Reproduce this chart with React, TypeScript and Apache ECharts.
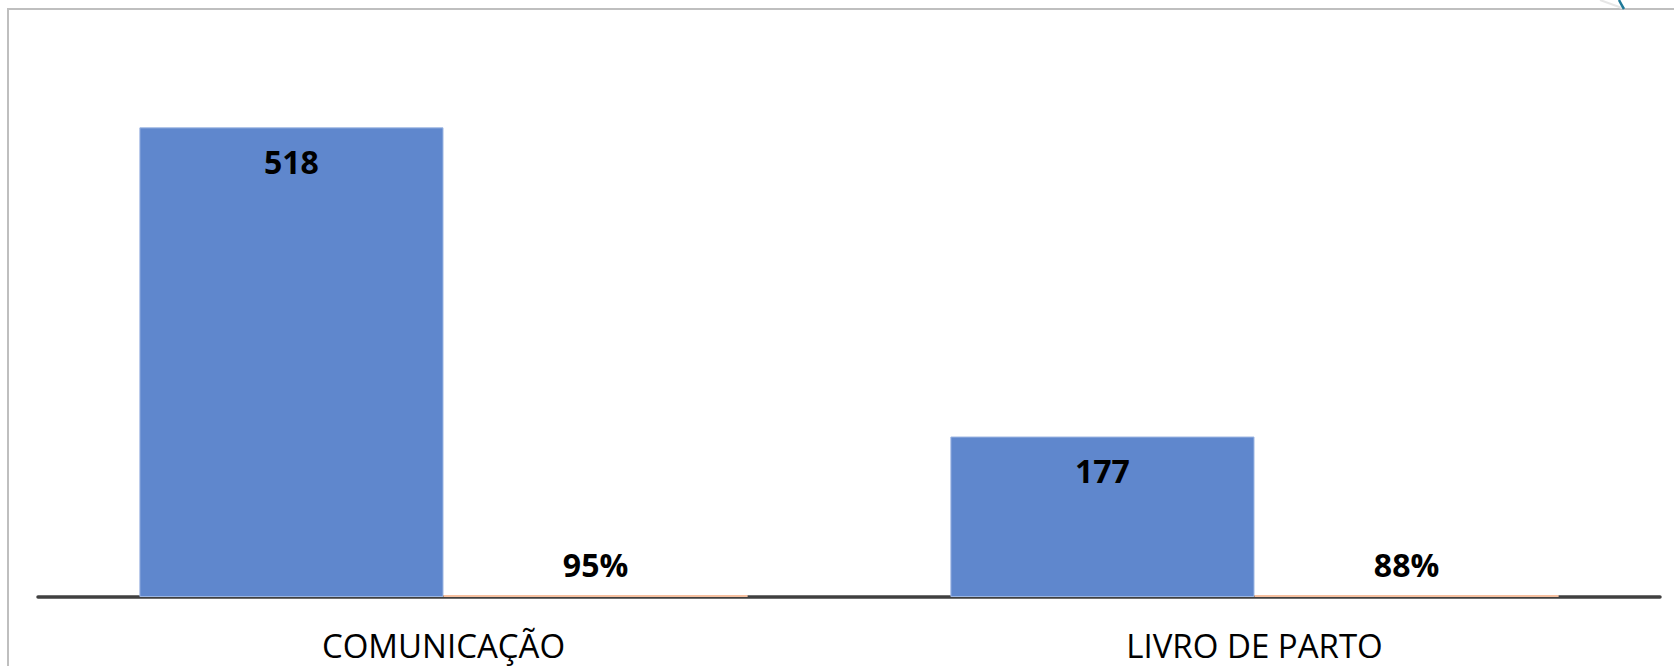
import React, { useEffect, useRef } from "react";
import * as echarts from "echarts";

const categories = ["COMUNICAÇÃO", "LIVRO DE PARTO"];
const counts = [518, 177];
const shares = [0.95, 0.88];

export default function App() {
  const ref = useRef<HTMLDivElement>(null);
  useEffect(() => {
    const chart = echarts.init(ref.current!, null, { renderer: "svg" });
    chart.setOption({
      animation: false,
      backgroundColor: "#ffffff",
      grid: { left: 38, right: 14, top: 53, bottom: 69, containLabel: false },
      xAxis: {
        type: "category",
        data: categories,
        axisLine: { lineStyle: { color: "#404040", width: 3.5 } },
        axisTick: { show: false },
        axisLabel: {
          color: "#000000",
          fontSize: 33,
          lineHeight: 26,
          fontFamily: "Open Sans",
          margin: 35,
        },
      },
      yAxis: {
        type: "value",
        min: 0,
        max: 600,
        show: false,
        splitLine: { show: false },
      },
      series: [
        {
          type: "bar",
          data: counts,
          barGap: "0%",
          barCategoryGap: "25%",
          itemStyle: { color: "#5f87cd", borderColor: "#9db6e2", borderWidth: 1 },
          label: {
            show: true,
            position: "insideTop",
            distance: 18,
            color: "#000000",
            fontSize: 32,
            fontWeight: "bold",
            fontFamily: "Open Sans",
          },
        },
        {
          type: "bar",
          data: shares,
          barGap: "0%",
          barCategoryGap: "25%",
          barMinHeight: 2,
          itemStyle: { color: "#f6c0a0" },
          label: {
            show: true,
            position: "top",
            distance: 15,
            color: "#000000",
            fontSize: 32,
            fontWeight: "bold",
            fontFamily: "Open Sans",
            formatter: (p: any) => Math.round(p.value * 100) + "%",
          },
        },
      ],
      graphic: [
        {
          type: "rect",
          shape: { x: 8, y: 9, width: 1700, height: 700 },
          style: { fill: "none", stroke: "#bfbfbf", lineWidth: 2 },
          silent: true,
        },
        {
          type: "line",
          shape: { x1: 1600, y1: 0, x2: 1622, y2: 8 },
          style: { stroke: "#e6e6e6", lineWidth: 2 },
          silent: true,
        },
        {
          type: "bezierCurve",
          shape: { x1: 1619, y1: 0, cpx1: 1621, cpy1: 4, x2: 1624, y2: 9 },
          style: { stroke: "#1f7a99", lineWidth: 2.5, fill: "none" },
          silent: true,
        },
      ],
    });
    return () => chart.dispose();
  }, []);
  return (
    <div
      ref={ref}
      style={{ position: "fixed", left: 0, top: 0, width: 1674, height: 666 }}
    />
  );
}
